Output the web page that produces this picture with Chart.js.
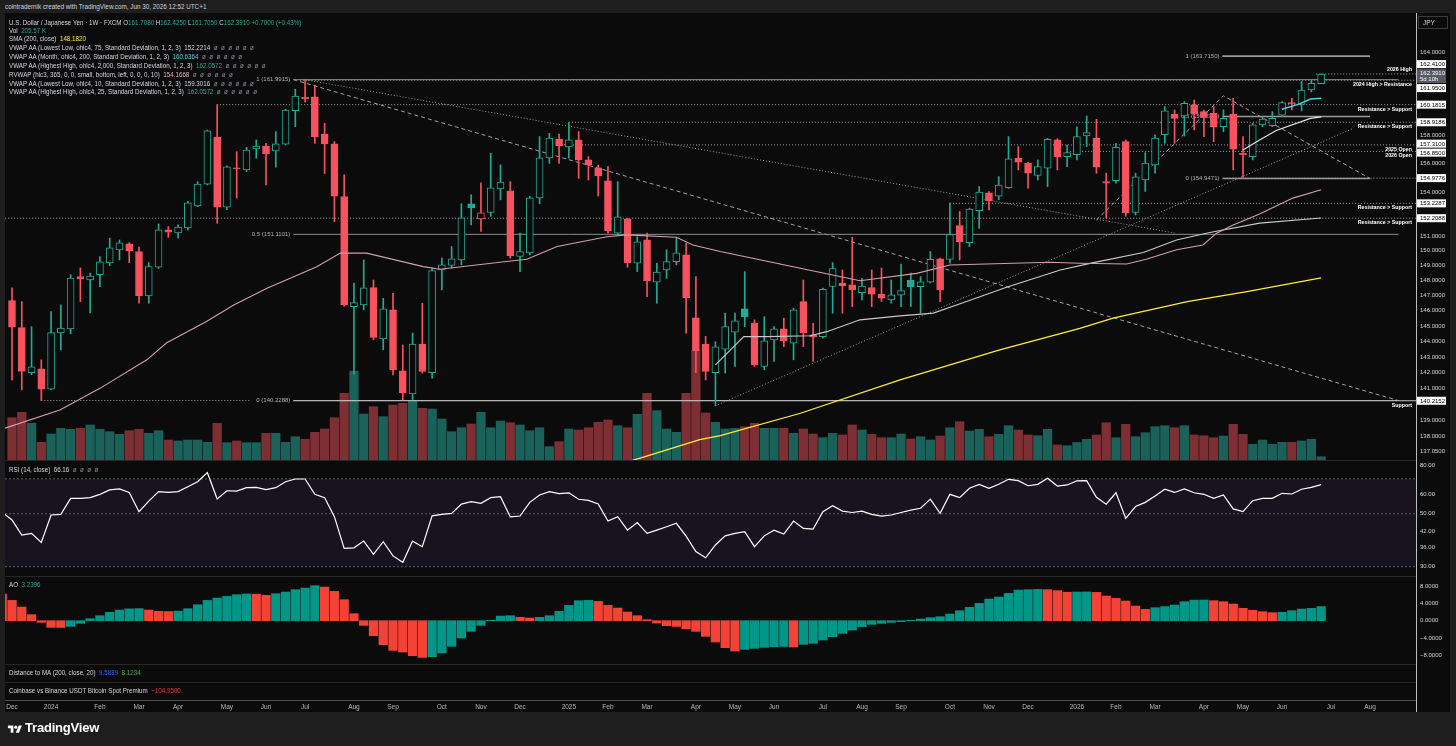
<!DOCTYPE html>
<html lang="en">
<head>
<meta charset="utf-8">
<title>USDJPY 1W</title>
<script src="https://cdn.jsdelivr.net/npm/chart.js@4.4.1/dist/chart.umd.min.js"></script>
<style>
html,body{margin:0;padding:0}
body{width:1456px;height:746px;background:#1e1e1e;position:relative;overflow:hidden;font-family:"Liberation Sans",Arial,sans-serif;color:#d1d4dc}
#paneBg{position:absolute;left:5px;top:13px;width:1445px;height:699px;background:#0b0b0b}
canvas{position:absolute;left:5px}
.sep{position:absolute;left:5px;width:1411px;height:1px;background:#262626}
#vline{position:absolute;left:1416px;top:13px;width:1px;height:699px;background:#bdbdbd}
.leg{position:absolute;left:9px;font-size:7px;line-height:8px;white-space:nowrap;transform:scaleX(.89);transform-origin:0 0;color:#d1d4dc}
.g{color:#22ab94}.z{color:#8a8d96}.y{color:#ffeb3b}.c{color:#4dd0e1}.p{color:#e8a8bd}
#hdr{position:absolute;left:5px;top:2px;font-size:6.8px;line-height:9px;color:#d1d4dc;white-space:nowrap;transform:scaleX(.93);transform-origin:0 0}
#jpy{position:absolute;left:1418px;top:16px;width:30px;height:13px;border:1px solid #3c3c3c;box-sizing:border-box;font-size:6.5px;line-height:11px;padding-left:4px;color:#d1d4dc}
#logo{position:absolute;left:7px;top:724px}
#tv{position:absolute;left:25px;top:720px;font-size:13px;font-weight:bold;color:#ffffff;letter-spacing:-0.2px}
</style>
</head>
<body>
<div id="paneBg"></div>
<div id="hdr">cointradernik created with TradingView.com, Jun 30, 2026 12:52 UTC+1</div>

<canvas id="mainC" width="1445" height="447" style="top:13px;width:1445px;height:447px"></canvas>
<canvas id="rsiC" width="1445" height="115" style="top:461px;width:1445px;height:115px"></canvas>
<canvas id="aoC" width="1445" height="87" style="top:577px;width:1445px;height:87px"></canvas>
<canvas id="timeC" width="1445" height="48" style="top:664px;width:1445px;height:48px"></canvas>

<div class="sep" style="top:460px"></div>
<div class="sep" style="top:576px"></div>
<div class="sep" style="top:664px"></div>
<div class="sep" style="top:682px"></div>
<div id="vline"></div>
<div id="jpy">JPY</div>

<div class="leg" style="top:18.5px">U.S. Dollar / Japanese Yen · 1W · FXCM O<span class="g">161.7080</span> H<span class="g">162.4250</span> L<span class="g">161.7050</span> C<span class="g">162.3910</span> <span class="g">+0.7000 (+0.43%)</span></div>
<div class="leg" style="top:26.7px">Vol&nbsp; <span class="g">205.57 K</span></div>
<div class="leg" style="top:35.3px">SMA (200, close)&nbsp; <span class="y">148.1820</span></div>
<div class="leg" style="top:44.2px">VWAP AA (Lowest Low, ohlc4, 75, Standard Deviation, 1, 2, 3)&nbsp; <span>152.2214</span>&nbsp; <span class="z">ø&nbsp; ø&nbsp; ø&nbsp; ø&nbsp; ø&nbsp; ø</span></div>
<div class="leg" style="top:53.1px">VWAP AA (Month, ohlc4, 200, Standard Deviation, 1, 2, 3)&nbsp; <span class="c">160.6364</span>&nbsp; <span class="z">ø&nbsp; ø&nbsp; ø&nbsp; ø&nbsp; ø&nbsp; ø</span></div>
<div class="leg" style="top:61.9px">VWAP AA (Highest High, ohlc4, 2,000, Standard Deviation, 1, 2, 3)&nbsp; <span class="g">162.0572</span>&nbsp; <span class="z">ø&nbsp; ø&nbsp; ø&nbsp; ø&nbsp; ø&nbsp; ø</span></div>
<div class="leg" style="top:70.7px">RVWAP (hlc3, 365, 0, 0, small, bottom, left, 0, 0, 0, 10)&nbsp; <span class="p">154.1668</span>&nbsp; <span class="z">ø&nbsp; ø&nbsp; ø&nbsp; ø&nbsp; ø&nbsp; ø</span></div>
<div class="leg" style="top:79.5px">VWAP AA (Lowest Low, ohlc4, 10, Standard Deviation, 1, 2, 3)&nbsp; <span>159.3016</span>&nbsp; <span class="z">ø&nbsp; ø&nbsp; ø&nbsp; ø&nbsp; ø&nbsp; ø</span></div>
<div class="leg" style="top:88.3px">VWAP AA (Highest High, ohlc4, 25, Standard Deviation, 1, 2, 3)&nbsp; <span class="g">162.0572</span>&nbsp; <span class="z">ø&nbsp; ø&nbsp; ø&nbsp; ø&nbsp; ø&nbsp; ø</span></div>

<div class="leg" style="top:465.5px">RSI (14, close)&nbsp; <span>66.16</span>&nbsp; <span class="z">ø&nbsp; ø&nbsp; ø&nbsp; ø</span></div>
<div class="leg" style="top:580.5px">AO&nbsp; <span style="color:#26a69a">3.2396</span></div>
<div class="leg" style="top:668.8px">Distance to MA (200, close, 20)&nbsp; <span style="color:#2962ff">9.5889</span>&nbsp; <span style="color:#4caf50">8.1234</span></div>
<div class="leg" style="top:686.8px">Coinbase vs Binance USDT Bitcoin Spot Premium&nbsp; <span style="color:#f23645">−104.9500</span></div>

<svg id="logo" width="16" height="11" viewBox="0 0 36 28"><path d="M14 22H7V11H0V4h14v18z" fill="#fff"/><circle cx="20" cy="8" r="4" fill="#fff"/><path d="M28 22h-8l7.5-18h8L28 22z" fill="#fff"/></svg>
<div id="tv">TradingView</div>

<script>
// ===================== DATA (weekly USD/JPY, FXCM) =====================
// week index 0 = week of 2023-12-04 ... index 134 = week of 2026-06-29
const open = [146.67,144.90,142.00,142.24,140.95,144.56,144.81,148.26,148.04,148.40,
149.18,150.06,150.46,149.95,146.98,148.89,151.41,151.20,151.55,153.06,
154.55,157.87,152.96,155.69,155.55,157.02,157.23,156.88,157.36,159.74,
160.73,160.75,158.08,157.38,153.70,146.28,146.39,147.53,144.17,146.06,
142.12,140.64,143.84,142.00,148.71,149.02,149.38,153.20,152.16,152.60,
154.23,154.10,149.62,149.86,153.61,156.39,157.73,157.16,157.66,156.25,
155.69,154.78,151.18,152.16,149.16,150.73,147.90,148.71,149.27,149.72,
145.54,143.84,141.99,143.50,144.60,146.13,145.20,142.39,144.11,144.82,
143.90,146.61,144.43,144.32,147.62,147.84,147.71,147.20,147.53,147.10,
146.72,147.03,148.04,147.60,147.89,149.45,149.42,151.70,150.55,152.73,
153.95,153.73,154.32,156.37,156.02,155.16,155.67,157.66,156.48,156.62,
157.94,157.80,154.74,154.80,157.54,152.61,154.85,155.90,158.03,159.49,
159.37,160.16,159.68,159.56,158.60,159.51,156.71,156.48,158.73,158.68,
159.42,160.33,160.20,161.24,161.708];
const high = [147.51,146.61,144.96,142.82,145.95,146.39,148.40,148.85,148.50,149.60,
150.85,150.73,150.55,150.25,149.20,151.82,151.64,151.75,153.37,154.73,
158.37,160.16,155.83,156.83,157.14,157.66,157.42,158.25,159.85,161.29,
161.99,161.60,158.85,157.54,155.20,147.84,149.38,148.04,146.83,147.16,
143.78,144.55,146.50,148.83,149.50,150.28,153.20,153.82,154.65,156.72,
155.90,154.73,151.19,153.71,157.90,158.13,158.08,158.90,158.25,156.48,
155.90,155.78,154.73,152.20,150.95,151.20,149.16,150.06,150.84,150.50,
148.26,144.34,143.99,145.85,145.85,148.60,145.41,145.62,144.97,145.52,
146.17,148.04,145.19,147.50,149.20,148.71,150.91,148.15,148.71,148.83,
148.04,149.10,148.50,148.26,149.95,149.50,153.24,152.67,152.90,154.39,
154.05,155.08,157.90,157.19,156.10,156.25,157.78,157.75,157.30,158.60,
159.37,159.13,155.32,157.42,157.66,155.32,156.76,158.03,160.04,159.80,
160.40,160.52,159.80,160.04,159.80,160.64,157.90,158.85,159.32,159.68,
160.40,160.64,161.86,161.97,162.425];
const low = [141.54,140.90,141.86,140.23,140.90,143.46,144.50,146.61,145.86,147.60,
149.00,149.38,149.20,146.50,146.50,148.80,150.90,150.85,151.40,153.00,
154.50,151.87,152.80,153.60,155.43,156.37,154.50,155.74,157.30,158.60,
160.36,157.42,155.30,151.97,146.30,141.90,146.06,144.11,143.46,141.86,
140.27,140.27,141.97,141.65,147.38,148.83,149.05,151.75,151.30,152.34,
153.47,149.50,148.60,149.72,153.20,156.00,156.00,156.37,154.96,154.85,
153.73,151.20,151.10,148.89,148.60,146.93,146.50,148.15,149.05,144.54,
142.00,141.54,139.90,141.97,142.39,144.97,142.39,142.18,142.71,143.67,
142.82,143.67,142.71,144.21,145.85,145.85,146.28,146.72,146.28,146.61,
146.50,146.28,146.28,145.85,147.84,146.61,149.16,149.38,150.28,151.52,
152.78,153.47,154.27,155.55,154.27,154.85,154.39,155.55,155.78,156.25,
157.19,155.32,152.20,154.62,152.34,152.43,154.05,155.32,157.42,157.42,
157.94,158.37,157.90,157.54,158.25,155.55,154.95,156.25,158.60,158.60,
159.32,159.80,159.73,161.10,161.705];
const close = [144.93,142.07,142.37,140.95,144.58,144.88,148.17,148.11,148.30,149.25,
150.19,150.53,150.01,147.00,148.93,151.41,151.25,151.61,153.26,154.57,
158.30,152.96,155.76,155.62,156.95,157.23,156.67,157.38,159.80,160.80,
160.60,157.90,157.38,153.73,146.39,146.54,147.51,144.27,146.13,142.18,
140.73,143.84,142.07,148.66,149.05,149.45,152.23,152.92,152.57,154.30,
154.71,149.67,149.95,153.61,156.39,157.80,157.23,157.66,156.25,155.90,
155.13,151.36,152.30,149.20,150.60,147.99,148.57,149.27,149.85,146.87,
143.40,142.07,143.65,144.97,145.34,145.60,142.50,144.04,144.82,144.04,
146.06,144.58,144.28,147.42,148.80,147.64,147.38,147.64,147.10,146.83,
147.05,147.33,147.60,147.91,149.42,147.38,151.10,150.62,152.84,154.00,
153.40,154.50,156.32,156.09,155.32,155.78,157.71,156.48,156.76,157.90,
158.18,155.74,154.62,157.14,152.59,155.06,156.02,157.80,159.73,159.20,
160.28,159.51,159.27,158.56,159.20,157.00,156.60,158.73,159.15,159.20,
160.33,160.24,161.24,161.73,162.391];
const volumeK = [2623,2957,2275,1097,1612,1965,1903,1965,2170,1903,
1755,1593,1817,1903,1655,1817,1240,1178,1240,1240,
1097,2275,1073,1178,1073,1073,1655,1655,1097,1445,
1283,1717,1922,2623,4135,5518,2852,3305,2685,3410,
3515,3677,3205,3162,2542,1755,2003,2232,2957,2003,
2418,2313,2170,1817,2003,825,1135,1922,1860,2003,
2337,2480,2127,2003,2833,4135,3057,1922,1717,4135,
6777,2914,2337,1922,1965,2065,2275,1965,1965,1965,
1655,1922,1612,1383,1655,1550,2170,1860,1593,1383,
1383,1612,1302,1445,1240,1488,2003,2375,1798,1903,
1445,1593,2127,1860,1550,1507,1903,930,887,1085,
1283,1550,2313,1383,2213,1445,1693,2065,2127,2003,
2127,1550,1507,1383,1488,2213,1593,973,1240,973,
1097,1097,1178,1283,206];
const rsiPrevWeek = 50.7;
const rsi14 = [47.1,40.7,41.4,37.9,49.4,49.7,58.0,58.0,58.4,60.3,
62.9,63.5,61.4,51.0,56.5,61.9,61.4,61.9,64.9,68.1,
74.3,57.6,62.4,62.2,64.3,64.5,63.1,64.3,68.1,69.9,
69.9,60.3,58.4,48.6,35.8,36.0,38.4,33.8,38.2,33.3,
31.3,38.4,36.4,49.0,49.7,50.2,54.9,56.2,55.3,58.4,
58.9,48.5,48.9,55.8,59.9,61.9,60.7,61.2,57.5,56.9,
54.9,46.6,48.6,42.7,45.9,41.4,42.7,44.1,45.6,40.3,
34.7,32.7,37.0,40.4,41.4,42.1,36.4,40.4,42.7,41.1,
46.6,43.4,43.1,51.0,54.0,51.3,50.6,51.3,49.7,48.9,
49.4,50.6,51.8,52.7,57.6,50.2,60.3,58.4,63.9,66.4,
63.9,66.4,69.7,68.8,65.5,66.4,70.4,65.3,66.0,68.6,
68.8,58.6,54.8,61.2,47.8,53.6,55.8,59.3,63.3,61.4,
63.5,61.2,60.3,58.0,59.9,52.4,51.0,56.7,58.0,58.0,
60.9,60.5,63.3,64.5,66.16];
const aoPrevWeek = 6.1;
const aoValues = [4.67,3.14,1.38,-0.38,-1.53,-1.55,-1.30,-0.60,0.46,1.15,
1.92,2.45,2.72,2.78,2.45,2.15,2.10,2.20,2.76,3.68,
4.67,5.21,5.59,5.98,6.15,6.10,5.82,6.21,6.59,7.13,
7.51,8.05,7.74,6.74,4.83,1.61,-1.07,-3.45,-5.52,-6.82,
-7.20,-8.05,-8.43,-8.28,-7.43,-5.90,-3.98,-2.45,-1.07,0.08,
1.07,1.15,0.77,0.61,0.77,1.15,2.15,3.52,4.60,4.67,
4.44,3.52,2.91,1.99,1.15,0.23,-0.54,-1.15,-1.30,-1.84,
-2.45,-3.60,-4.90,-6.20,-6.97,-6.59,-6.36,-6.13,-5.98,-5.90,
-6.05,-5.44,-5.21,-4.44,-3.68,-2.91,-2.15,-1.38,-0.84,-0.61,
-0.38,-0.23,0.08,0.38,0.69,0.92,1.53,2.30,3.07,3.98,
4.98,5.44,6.28,7.05,7.13,7.20,7.13,6.90,6.55,6.60,
6.62,6.51,5.67,5.13,4.52,3.37,2.61,2.99,3.22,3.60,
4.37,4.72,4.76,4.60,4.37,3.83,2.84,2.38,2.07,1.84,
1.92,2.30,2.68,2.84,3.24];

// indicator lines: [week index, price]
const sma200 = [[60,135.9],[64.3,136.65],[70.4,137.78],[72.5,138.03],[80.7,139.43],[90.9,141.54],[101.1,143.46],[109.3,144.86],[112.7,145.52],[120.3,146.61],[126.4,147.27],[134,148.18]];
const rvwap = [[-0.7,138.5],[4.9,139.64],[9.0,141.0],[13.8,142.82],[15.8,143.9],[19.9,145.3],[22.7,146.39],[26.1,147.49],[31.2,148.93],[33.6,149.84],[36.3,149.84],[42.1,148.93],[43.8,148.76],[50.6,149.27],[52.7,149.43],[55.8,150.28],[60.9,150.95],[62.9,151.07],[68.0,150.91],[69.7,150.39],[72.5,149.95],[80.7,148.82],[86.8,147.99],[92.6,148.48],[96.0,149.04],[106.2,149.22],[109.3,149.16],[114.1,149.11],[116.1,149.43],[119.2,150.06],[121.9,150.39],[123.3,151.19],[125.0,151.75],[127.7,152.50],[131.1,153.59],[134,154.17]];
const vwapLow75 = [[72,142.5],[74.9,144.32],[77.2,144.32],[81.7,144.37],[83.4,144.64],[86.8,145.41],[90.9,145.67],[94.3,145.85],[97.7,146.61],[101.8,147.56],[107.3,148.71],[110.7,149.2],[115.8,149.88],[119.2,150.73],[122.6,151.23],[127.7,151.87],[134,152.22]];
const vwapLow10 = [[126,156.95],[127.7,157.66],[129.4,158.33],[132.9,159.2],[134,159.30]];
const vwapMonth = [[130,159.85],[131.8,160.24],[132.9,160.59],[134,160.64]];

// drawings
const trendFib1 = [[28.8,161.9915],[141.9,140.2288]];
const trendFromHigh = [[30,161.99],[119,151.2]];
const trendFromLow = [[72,139.9],[137.3,158.49]];
const trendFib2 = [[111,152.09],[124,160.82],[139,154.95]];
const fibJul24 = {from:28.8, to:141.9, levels:[['1',161.9915],['0.5',151.1101],['0',140.2288]]};
const fibApr26 = {from:123.9, to:139.0, levels:[['1',163.7150],['0.5',159.3311],['0',154.9471]]};
const lowDec23 = {from:3, to:24.5, price:140.2288};
const levelPrices = [162.41,161.95,160.1815,158.9186,157.31,156.85,154.9776,153.2287,152.2088,140.2152];
const levelStart  = [133.5,29.5,21,57,56.5,108,124,96,-0.7,28.8];
const levelText   = ['2026 High','2024 High > Resistance','Resistance > Support','Resistance > Support','2025 Open','2026 Open','','Resistance > Support','Resistance > Support','Support'];
const levelAbove  = [true,false,false,false,false,false,false,false,false,false];

// axis labels
const priceTicks = [137.05,138,139,141,142,143,144,145,146,147,148,149,150,151,154,156,158,164];
const rsiTicks = [30,36,42,50,60,80];
const aoTicks = [-8,-4,0,4,8];
const monthTickWeeks = [0,4,9,13,17,22,26,30,35,39,44,48,52,57,61,65,70,74,78,83,87,91,96,100,104,109,113,117,122,126,130,135,139];
const monthTickLabels = ['Dec','2024','Feb','Mar','Apr','May','Jun','Jul','Aug','Sep','Oct','Nov','Dec','2025','Feb','Mar','Apr','May','Jun','Jul','Aug','Sep','Oct','Nov','Dec','2026','Feb','Mar','Apr','May','Jun','Jul','Aug'];
const priceBoxValues = [162.41,162.391,161.95,160.1815,158.9186,157.31,156.85,154.9776,153.2287,152.2088,140.2152];
const currentPrice = 162.391, countdown = '5d 10h';

// ===================== STYLE / LAYOUT =====================
const X_MIN = -0.7165, X_MAX = 143.71;
const BG = '#0b0b0b', UP = '#22ab94', DN = '#f7525f';
const VOL_UP = '#1a615a', VOL_DN = '#7d2f33';
const AO_UP = '#009688', AO_DN = '#f44336';
const FONT = '"Liberation Sans", Arial, sans-serif';
Chart.defaults.font.family = FONT;

const weeks = close.map((_, i) => i);
const prevClose = i => i > 0 ? close[i - 1] : open[i];
const candleCol = i => close[i] >= prevClose(i) ? UP : DN;

function axisFit(w){ return s => { s.width = w; s.paddingTop = 0; s.paddingBottom = 0; }; }
const xScale = {type:'linear', min:X_MIN, max:X_MAX, display:false, offset:false, bounds:'data'};
const baseOpts = {responsive:false, animation:false, events:[], layout:{padding:0},
  plugins:{legend:{display:false}, tooltip:{enabled:false}}};
function yAxisRight(extra){
  return Object.assign({position:'right', bounds:'data', afterFit: axisFit(34),
    grid:{display:false, drawTicks:false}, border:{display:false},
    ticks:{color:'#d1d4dc', font:{size:6, family:FONT}, padding:4, autoSkip:false}}, extra);
}
const line = (pts, color, width, dash, order, axis) => ({type:'line', data: pts.map(p => ({x:p[0], y:p[1]})),
  borderColor:color, borderWidth:width, borderDash:dash || [], pointRadius:0, tension:0, fill:false,
  order: order, yAxisID: axis || 'y'});

// ===================== MAIN PANE =====================
const mainDs = [];
mainDs.push({type:'bar', data: weeks.map(i => ({x:i, y:volumeK[i]})), yAxisID:'yv', grouped:false, order:10,
  backgroundColor: weeks.map(i => close[i] >= open[i] ? VOL_UP : VOL_DN), barThickness:8.6});
// drawings (beneath candles)
levelPrices.forEach((p, k) => mainDs.push(line([[levelStart[k], p],[X_MAX, p]], k === 9 ? '#c4c4c4' : '#a3a3a3', 1, k === 9 ? [] : [1,2], 7)));
fibJul24.levels.forEach(l => mainDs.push(line([[fibJul24.from, l[1]],[fibJul24.to, l[1]]], '#8e8e8e', 1, [], 7)));
fibApr26.levels.forEach(l => mainDs.push(line([[fibApr26.from, l[1]],[fibApr26.to, l[1]]], '#9a9a9a', 1.6, [], 7)));
mainDs.push(line([[lowDec23.from, lowDec23.price],[lowDec23.to, lowDec23.price]], '#a3a3a3', 1, [1,2], 7));
mainDs.push(line(trendFib1, '#a0a0a0', 1, [4,3], 7));
mainDs.push(line(trendFromHigh, '#9a9a9a', 1, [1,2], 7));
mainDs.push(line(trendFromLow, '#9a9a9a', 1, [1,2], 7));
mainDs.push(line(trendFib2, '#a0a0a0', 1, [4,3], 7));
// candles
mainDs.push({type:'bar', data: weeks.map(i => ({x:i, y:[low[i], high[i]]})), grouped:false, order:3,
  backgroundColor: weeks.map(candleCol), barThickness:1});
mainDs.push({type:'bar', data: weeks.map(i => ({x:i, y:[open[i], close[i]]})), grouped:false, order:2,
  backgroundColor: weeks.map(i => close[i] > open[i] ? BG : candleCol(i)), borderColor: weeks.map(candleCol),
  borderWidth:1, borderSkipped:false, barThickness:7, minBarLength:1});
// indicators (on top)
mainDs.push(line(sma200, '#ffeb3b', 1.3, [], 1));
mainDs.push(line(rvwap, '#cf9fb0', 1.1, [], 1));
mainDs.push(line(vwapLow75, '#c9c9c9', 1.1, [], 1));
mainDs.push(line(vwapLow10, '#e6e6e6', 1.2, [], 1));
mainDs.push(line(vwapMonth, '#4dd0e1', 1.4, [], 1));

function spreadBoxes(items){
  items.sort((a, b) => a.y - b.y);
  for (let it = 0; it < 80; it++){
    let moved = false;
    for (let i = 1; i < items.length; i++){
      const a = items[i-1], b = items[i];
      const need = (a.h + b.h)/2 + 1 - (b.y - a.y);
      if (need > 0.01){ a.y -= need/2; b.y += need/2; moved = true; }
    }
    if (!moved) break;
  }
}

const mainDecor = {
  id:'mainDecor',
  beforeDatasetsDraw(c){
    const {ctx, scales:{x, y}} = c;
    ctx.save();
    ctx.font = '6px ' + FONT; ctx.fillStyle = '#aeb1ba';
    ctx.textAlign = 'right'; ctx.textBaseline = 'middle';
    [fibJul24, fibApr26].forEach(f => f.levels.forEach(l =>
      ctx.fillText(l[0] + ' (' + l[1].toFixed(4) + ')', x.getPixelForValue(f.from) - 3, y.getPixelForValue(l[1]))));
    ctx.restore();
  },
  afterDatasetsDraw(c){
    const {ctx, scales:{y}, chartArea:ca} = c;
    ctx.save();
    ctx.font = 'bold 5.3px ' + FONT; ctx.fillStyle = '#ffffff';
    ctx.textAlign = 'right'; ctx.textBaseline = 'middle';
    levelPrices.forEach((p, k) => { if (!levelText[k]) return;
      ctx.fillText(levelText[k], ca.right - 4, y.getPixelForValue(p) + (levelAbove[k] ? -4.7 : 4.6)); });
    ctx.restore();
  },
  afterDraw(c){
    const {ctx, scales:{y}, chartArea:ca} = c;
    const items = priceBoxValues.map(v => ({v, y: y.getPixelForValue(v), h: v === currentPrice ? 14 : 8}));
    spreadBoxes(items);
    ctx.save();
    ctx.font = '6px ' + FONT; ctx.textAlign = 'left'; ctx.textBaseline = 'middle';
    items.forEach(b => {
      const cur = b.v === currentPrice;
      ctx.fillStyle = cur ? '#555965' : '#ffffff';
      ctx.fillRect(ca.right + 1, b.y - b.h/2, 29, b.h);
      ctx.fillStyle = cur ? '#ffffff' : '#000000';
      if (cur){ ctx.fillText(b.v.toFixed(4), ca.right + 4, b.y - 3); ctx.fillText(countdown, ca.right + 4, b.y + 3.6); }
      else ctx.fillText(b.v.toFixed(4), ca.right + 4, b.y + 0.3);
    });
    ctx.restore();
  }
};

new Chart(document.getElementById('mainC'), {
  type:'bar', data:{datasets: mainDs},
  options: Object.assign({}, baseOpts, {scales:{
    x: xScale,
    y: yAxisRight({type:'logarithmic', min:136.53, max:166.92,
      afterBuildTicks: s => { s.ticks = priceTicks.map(v => ({value:v})); },
      ticks:{color:'#d1d4dc', font:{size:6, family:FONT}, padding:4, autoSkip:false, callback: v => Number(v).toFixed(4)}}),
    yv:{type:'linear', display:false, min:0, max:27714}
  }}),
  plugins:[mainDecor]
});

// ===================== RSI PANE =====================
const rsiBand = {id:'rsiBand', beforeDatasetsDraw(c){
  const {ctx, scales:{y}, chartArea:ca} = c;
  const t = y.getPixelForValue(70), b = y.getPixelForValue(30);
  ctx.save(); ctx.fillStyle = '#18141f'; ctx.fillRect(ca.left, t, ca.right - ca.left, b - t); ctx.restore();
}};
new Chart(document.getElementById('rsiC'), {
  type:'line',
  data:{datasets:[
    line([[X_MIN,70],[X_MAX,70]], '#5c5c66', 1, [2,2], 5),
    line([[X_MIN,50],[X_MAX,50]], '#5c5c66', 1, [2,2], 5),
    line([[X_MIN,30],[X_MAX,30]], '#5c5c66', 1, [2,2], 5),
    line([[-1, rsiPrevWeek]].concat(rsi14.map((v, i) => [i, v])), '#ffffff', 1.2, [], 1)
  ]},
  options: Object.assign({}, baseOpts, {scales:{
    x: xScale,
    y: yAxisRight({type:'logarithmic', min:27.43, max:83.15,
      afterBuildTicks: s => { s.ticks = rsiTicks.map(v => ({value:v})); },
      ticks:{color:'#d1d4dc', font:{size:6, family:FONT}, padding:4, autoSkip:false, callback: v => Number(v).toFixed(2)}})
  }}),
  plugins:[rsiBand]
});

// ===================== AO PANE =====================
const aoAll = [aoPrevWeek].concat(aoValues);
new Chart(document.getElementById('aoC'), {
  type:'bar',
  data:{datasets:[{data: aoAll.map((v, k) => ({x:k - 1, y:v})), grouped:false, barThickness:8.6,
    backgroundColor: aoAll.map((v, k) => (k > 0 && v >= aoAll[k-1]) ? AO_UP : AO_DN)}]},
  options: Object.assign({}, baseOpts, {scales:{
    x: xScale,
    y: yAxisRight({type:'linear', min:-9.954, max:10.046,
      afterBuildTicks: s => { s.ticks = aoTicks.map(v => ({value:v})); },
      ticks:{color:'#d1d4dc', font:{size:6, family:FONT}, padding:4, autoSkip:false,
        callback: v => (v < 0 ? '−' : '') + Math.abs(v).toFixed(4)}})
  }})
});

// ===================== EMPTY PANES + TIME AXIS =====================
new Chart(document.getElementById('timeC'), {
  type:'line', data:{datasets:[]},
  options: Object.assign({}, baseOpts, {scales:{
    x:{type:'linear', min:X_MIN, max:X_MAX, position:'bottom', offset:false, bounds:'data',
      afterBuildTicks: s => { s.ticks = monthTickWeeks.map(v => ({value:v})); },
      afterFit: s => { s.height = 12; s.paddingLeft = 0; s.paddingRight = 0; },
      grid:{display:false, drawTicks:false}, border:{display:true, color:'#4d4d4d'},
      ticks:{color:'#b2b5be', font:{size:6.5, family:FONT}, padding:3, autoSkip:false, maxRotation:0, minRotation:0,
        callback: (v, i) => monthTickLabels[i]}},
    y: yAxisRight({type:'linear', min:0, max:1, ticks:{display:false}})
  }})
});
</script>
</body>
</html>
